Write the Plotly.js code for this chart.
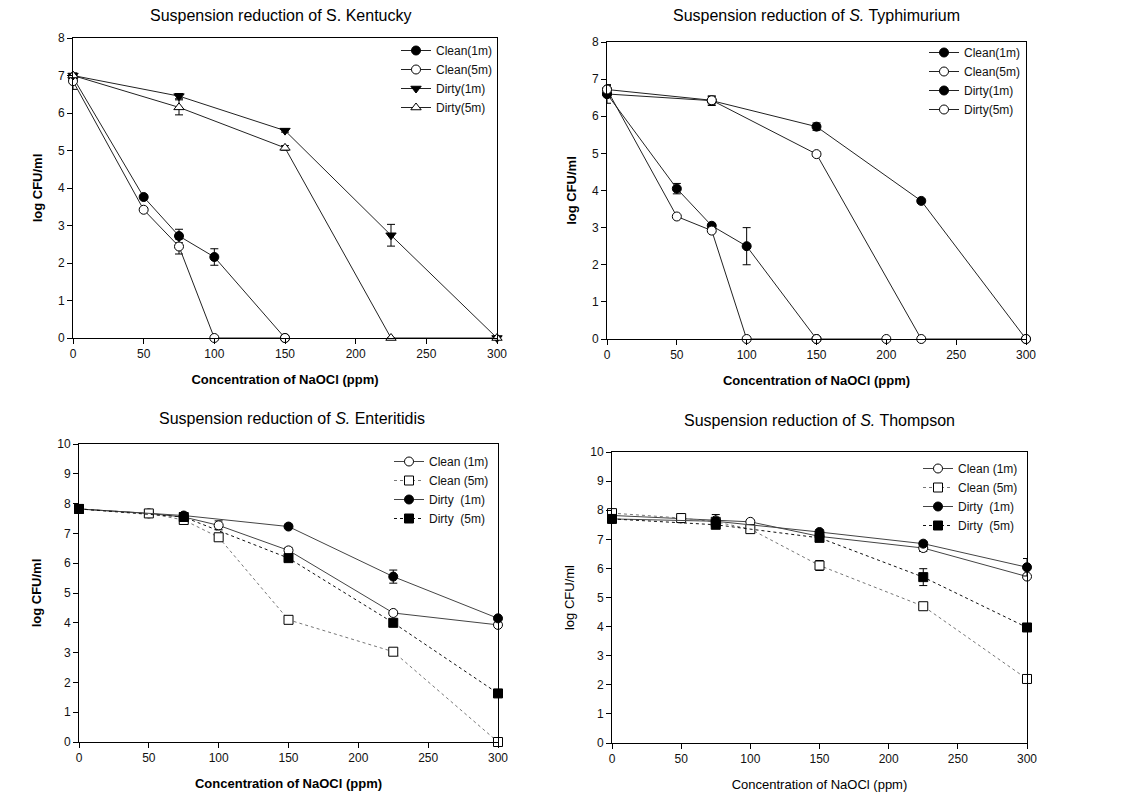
<!DOCTYPE html>
<html>
<head>
<meta charset="utf-8">
<script src="https://cdn.plot.ly/plotly-3.0.1.min.js"></script>
<style>html,body{margin:0;padding:0;background:#fff}#chart{width:1127px;height:798px}</style>
</head>
<body>
<div id="chart"></div>
<script>
// ---------- Data ----------
// S. Kentucky
const kenClean1X = [0, 50, 75, 100, 150];
const kenClean1Y = [6.95, 3.76, 2.72, 2.16, 0];
const kenClean1E = [0.05, 0.04, 0.18, 0.22, 0];
const kenClean5X = [0, 50, 75, 100, 150];
const kenClean5Y = [6.85, 3.42, 2.44, 0, 0];
const kenClean5E = [0.22, 0.03, 0.2, 0, 0];
const kenDirty1X = [0, 75, 150, 225, 300];
const kenDirty1Y = [7.0, 6.45, 5.53, 2.74, 0];
const kenDirty1E = [0.05, 0.07, 0.04, 0.29, 0];
const kenDirty5X = [0, 75, 150, 225, 300];
const kenDirty5Y = [7.0, 6.15, 5.07, 0, 0];
const kenDirty5E = [0.05, 0.2, 0.06, 0, 0];

// S. Typhimurium
const typClean1X = [0, 50, 75, 100, 150];
const typClean1Y = [6.6, 4.05, 3.05, 2.5, 0];
const typClean1E = [0.25, 0.14, 0.05, 0.5, 0];
const typClean5X = [0, 50, 75, 100, 150, 200];
const typClean5Y = [6.72, 3.3, 2.92, 0, 0, 0];
const typClean5E = [0.12, 0.03, 0.05, 0, 0, 0];
const typDirty1X = [0, 75, 150, 225, 300];
const typDirty1Y = [6.6, 6.42, 5.72, 3.72, 0];
const typDirty1E = [0.1, 0.13, 0.1, 0.05, 0];
const typDirty5X = [0, 75, 150, 225, 300];
const typDirty5Y = [6.72, 6.43, 4.98, 0, 0];
const typDirty5E = [0.1, 0.1, 0.06, 0, 0];

// S. Enteritidis
const entCleanX = [0, 50, 75, 100, 150, 225, 300];
const entClean1Y = [7.82, 7.67, 7.55, 7.27, 6.43, 4.33, 3.93];
const entClean1E = [0.05, 0.05, 0.05, 0.15, 0.1, 0.05, 0.05];
const entClean5Y = [7.82, 7.67, 7.45, 6.87, 4.1, 3.03, 0];
const entClean5E = [0.05, 0.05, 0.1, 0.05, 0.05, 0.05, 0];
const entDirtyX = [0, 75, 150, 225, 300];
const entDirty1Y = [7.82, 7.6, 7.23, 5.55, 4.15];
const entDirty1E = [0.08, 0.05, 0.05, 0.22, 0.05];
const entDirty5Y = [7.82, 7.55, 6.17, 4.0, 1.63];
const entDirty5E = [0.08, 0.15, 0.1, 0.08, 0.05];

// S. Thompson
const thoCleanX = [0, 50, 75, 100, 150, 225, 300];
const thoClean1Y = [7.82, 7.72, 7.65, 7.6, 7.1, 6.7, 5.72];
const thoClean1E = [0.05, 0.05, 0.2, 0.05, 0.05, 0.12, 0.08];
const thoClean5Y = [7.9, 7.73, 7.6, 7.35, 6.1, 4.7, 2.2];
const thoClean5E = [0.05, 0.05, 0.05, 0.05, 0.17, 0.05, 0.12];
const thoDirtyX = [0, 75, 150, 225, 300];
const thoDirty1Y = [7.7, 7.62, 7.25, 6.85, 6.04];
const thoDirty1E = [0.05, 0.1, 0.08, 0.08, 0.3];
const thoDirty5Y = [7.7, 7.5, 7.05, 5.7, 3.97];
const thoDirty5E = [0.08, 0.08, 0.1, 0.29, 0.05];

const panelTitles = [
  'Suspension reduction of S. Kentucky',
  'Suspension reduction of <i>S.</i> Typhimurium',
  'Suspension reduction of <i>S.</i> Enteritidis',
  'Suspension reduction of <i>S.</i> Thompson'
];
const xTitle = 'Concentration of NaOCl (ppm)';
const yTitle = 'log CFU/ml';
const namesA = ['Clean(1m)', 'Clean(5m)', 'Dirty(1m)', 'Dirty(5m)'];
const namesB = ['Clean (1m)', 'Clean (5m)', 'Dirty&nbsp; (1m)', 'Dirty&nbsp; (5m)'];

// ---------- Build ----------
const W = 1127, H = 798;
const FONT = 'Liberation Sans, Arial, sans-serif';
const px = v => v / W;
const py = v => 1 - v / H;

function tr(x, y, e, name, sub, leg, sym, fill, dash, lcolor) {
  return {
    type: 'scatter', mode: 'lines+markers', x: x, y: y, name: name,
    xaxis: 'x' + (sub === 1 ? '' : sub), yaxis: 'y' + (sub === 1 ? '' : sub),
    legend: leg, cliponaxis: false,
    line: {color: lcolor || '#222', width: 1, dash: dash || 'solid'},
    marker: {symbol: sym, size: 9, color: fill, line: {color: '#000', width: 1}},
    error_y: {type: 'data', array: e, visible: true, color: '#000', thickness: 1, width: 4}
  };
}

const data = [
  tr(kenClean1X, kenClean1Y, kenClean1E, namesA[0], 1, 'legend', 'circle', '#000'),
  tr(kenClean5X, kenClean5Y, kenClean5E, namesA[1], 1, 'legend', 'circle', '#fff'),
  tr(kenDirty1X, kenDirty1Y, kenDirty1E, namesA[2], 1, 'legend', 'triangle-down', '#000'),
  tr(kenDirty5X, kenDirty5Y, kenDirty5E, namesA[3], 1, 'legend', 'triangle-up', '#fff'),

  tr(typClean1X, typClean1Y, typClean1E, namesA[0], 2, 'legend2', 'circle', '#000'),
  tr(typClean5X, typClean5Y, typClean5E, namesA[1], 2, 'legend2', 'circle', '#fff'),
  tr(typDirty1X, typDirty1Y, typDirty1E, namesA[2], 2, 'legend2', 'circle', '#000'),
  tr(typDirty5X, typDirty5Y, typDirty5E, namesA[3], 2, 'legend2', 'circle', '#fff'),

  tr(entCleanX, entClean1Y, entClean1E, namesB[0], 3, 'legend3', 'circle', '#fff', 'solid', '#444'),
  tr(entCleanX, entClean5Y, entClean5E, namesB[1], 3, 'legend3', 'square', '#fff', 'dot', '#777'),
  tr(entDirtyX, entDirty1Y, entDirty1E, namesB[2], 3, 'legend3', 'circle', '#000', 'solid', '#444'),
  tr(entDirtyX, entDirty5Y, entDirty5E, namesB[3], 3, 'legend3', 'square', '#000', 'dot', '#111'),

  tr(thoCleanX, thoClean1Y, thoClean1E, namesB[0], 4, 'legend4', 'circle', '#fff', 'solid', '#444'),
  tr(thoCleanX, thoClean5Y, thoClean5E, namesB[1], 4, 'legend4', 'square', '#fff', 'dot', '#777'),
  tr(thoDirtyX, thoDirty1Y, thoDirty1E, namesB[2], 4, 'legend4', 'circle', '#000', 'solid', '#444'),
  tr(thoDirtyX, thoDirty5Y, thoDirty5E, namesB[3], 4, 'legend4', 'square', '#000', 'dot', '#111')
];

// plot boxes in pixels: [left, right, top, bottom]
const boxes = [[73, 497, 38, 338], [607, 1026, 42, 339], [79, 498, 444, 742], [612, 1027, 452, 743]];
const yMax = [8, 8, 10, 10];
const boldTitles = [true, true, true, false];

function xAxis(i) {
  const b = boxes[i];
  return {
    domain: [px(b[0]), px(b[1])], range: [0, 300], dtick: 50, tick0: 0,
    anchor: 'y' + (i === 0 ? '' : i + 1),
    showgrid: false, zeroline: false, showline: true, linecolor: '#000', linewidth: 1, mirror: true,
    ticks: 'outside', ticklen: 5, tickcolor: '#000', tickwidth: 1,
    tickfont: {family: FONT, size: 12, color: '#111'},
    title: {text: boldTitles[i] ? '<b>' + xTitle + '</b>' : xTitle, standoff: 14,
            font: {family: FONT, size: 13, color: '#000'}}
  };
}
function yAxis(i) {
  const b = boxes[i];
  return {
    domain: [py(b[3]), py(b[2])], range: [0, yMax[i]], dtick: 1, tick0: 0,
    anchor: 'x' + (i === 0 ? '' : i + 1),
    showgrid: false, zeroline: false, showline: true, linecolor: '#000', linewidth: 1, mirror: true,
    ticks: 'outside', ticklen: 5, tickcolor: '#000', tickwidth: 1,
    tickfont: {family: FONT, size: 12, color: '#111'},
    title: {text: boldTitles[i] ? '<b>' + yTitle + '</b>' : yTitle, standoff: 12,
            font: {family: FONT, size: 13, color: '#000'}}
  };
}

const titlePos = [[281, 15], [816, 15], [292, 418], [819, 420]];
const annotations = panelTitles.map((t, i) => ({
  text: t, xref: 'paper', yref: 'paper', x: px(titlePos[i][0]), y: py(titlePos[i][1]),
  xanchor: 'center', yanchor: 'middle', showarrow: false,
  font: {family: FONT, size: 16, color: '#000'}
}));

function legendAt(xp, yp) {
  return {x: px(xp), y: py(yp), xanchor: 'left', yanchor: 'top', bgcolor: 'rgba(0,0,0,0)',
          borderwidth: 0, font: {family: FONT, size: 12, color: '#111'}, tracegroupgap: 0};
}

const layout = {
  width: W, height: H, margin: {l: 0, r: 0, t: 0, b: 0},
  paper_bgcolor: '#fff', plot_bgcolor: '#fff',
  font: {family: FONT},
  showlegend: true,
  xaxis: xAxis(0), yaxis: yAxis(0),
  xaxis2: xAxis(1), yaxis2: yAxis(1),
  xaxis3: xAxis(2), yaxis3: yAxis(2),
  xaxis4: xAxis(3), yaxis4: yAxis(3),
  legend: legendAt(396, 36),
  legend2: legendAt(924, 38),
  legend3: legendAt(389, 447),
  legend4: legendAt(918, 454),
  annotations: annotations
};

Plotly.newPlot('chart', data, layout, {displayModeBar: false, staticPlot: true});
</script>
</body>
</html>
